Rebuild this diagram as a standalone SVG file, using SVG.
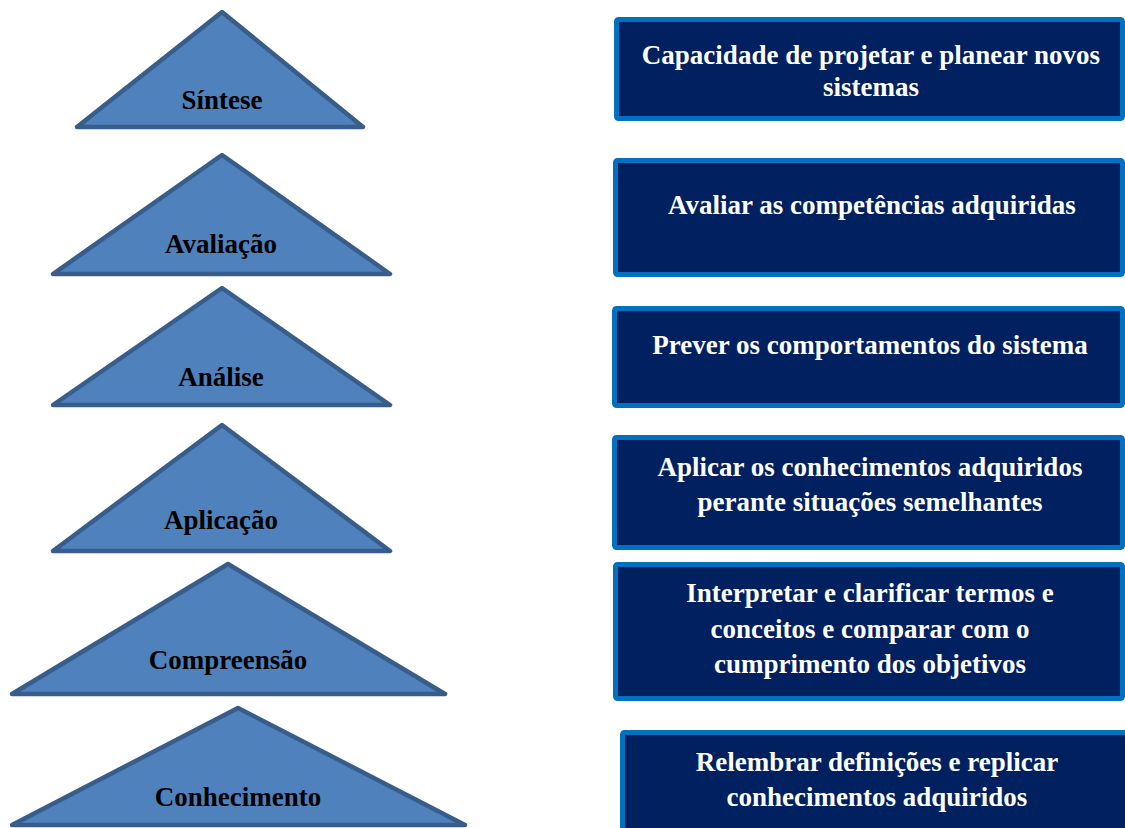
<svg xmlns="http://www.w3.org/2000/svg" width="1125" height="828" viewBox="0 0 1125 828">
<style>
.tri{fill:#4F81BD;stroke:#385D8A;stroke-width:4.5;stroke-linejoin:round}
.box{fill:#002060;stroke:#0070C0;stroke-width:5}
.tl{font-family:"Liberation Serif","Times New Roman",serif;font-weight:bold;font-size:27px;fill:#000;text-anchor:middle}
.bl{font-family:"Liberation Serif","Times New Roman",serif;font-weight:bold;font-size:27px;fill:#fff;text-anchor:middle}
</style>
<rect width="1125" height="828" fill="#fff"/>
<g id="connectors"></g>
<g id="tri-sintese">
<polygon class="tri" points="222,12 363,127 77,127"/>
<text class="tl" x="222" y="109">Síntese</text>
</g>
<g id="tri-avaliacao">
<polygon class="tri" points="222,155 390,274 53,274"/>
<text class="tl" x="221" y="253">Avaliação</text>
</g>
<g id="tri-analise">
<polygon class="tri" points="222,288 390,405 53,405"/>
<text class="tl" x="221" y="386">Análise</text>
</g>
<g id="tri-aplicacao">
<polygon class="tri" points="222,425 390,551 53,551"/>
<text class="tl" x="221" y="529">Aplicação</text>
</g>
<g id="tri-compreensao">
<polygon class="tri" points="228,564 445,694 12,694"/>
<text class="tl" x="228" y="669">Compreensão</text>
</g>
<g id="tri-conhecimento">
<polygon class="tri" points="238,708 465,825 12,825"/>
<text class="tl" x="238" y="806">Conhecimento</text>
</g>
<g id="box-1">
<rect class="box" x="616.5" y="19.5" width="506" height="99" rx="2"/>
<text class="bl" x="871" y="64">Capacidade de projetar e planear novos</text>
<text class="bl" x="871" y="96">sistemas</text>
</g>
<g id="box-2">
<rect class="box" x="615.5" y="160.5" width="507" height="114" rx="2"/>
<text class="bl" x="872" y="214">Avaliar as competências adquiridas</text>
</g>
<g id="box-3">
<rect class="box" x="614.5" y="308.5" width="508" height="97" rx="2"/>
<text class="bl" x="870" y="354">Prever os comportamentos do sistema</text>
</g>
<g id="box-4">
<rect class="box" x="614.5" y="437.5" width="508" height="110" rx="2"/>
<text class="bl" x="870" y="476">Aplicar os conhecimentos adquiridos</text>
<text class="bl" x="870" y="511">perante situações semelhantes</text>
</g>
<g id="box-5">
<rect class="box" x="615.5" y="564.5" width="507" height="134" rx="2"/>
<text class="bl" x="870" y="602">Interpretar e clarificar termos e</text>
<text class="bl" x="870" y="638">conceitos e comparar com o</text>
<text class="bl" x="870" y="673">cumprimento dos objetivos</text>
</g>
<g id="box-6">
<rect class="box" x="622.5" y="732.5" width="506" height="110" rx="2"/>
<text class="bl" x="877" y="771">Relembrar definições e replicar</text>
<text class="bl" x="877" y="806">conhecimentos adquiridos</text>
</g>
</svg>
